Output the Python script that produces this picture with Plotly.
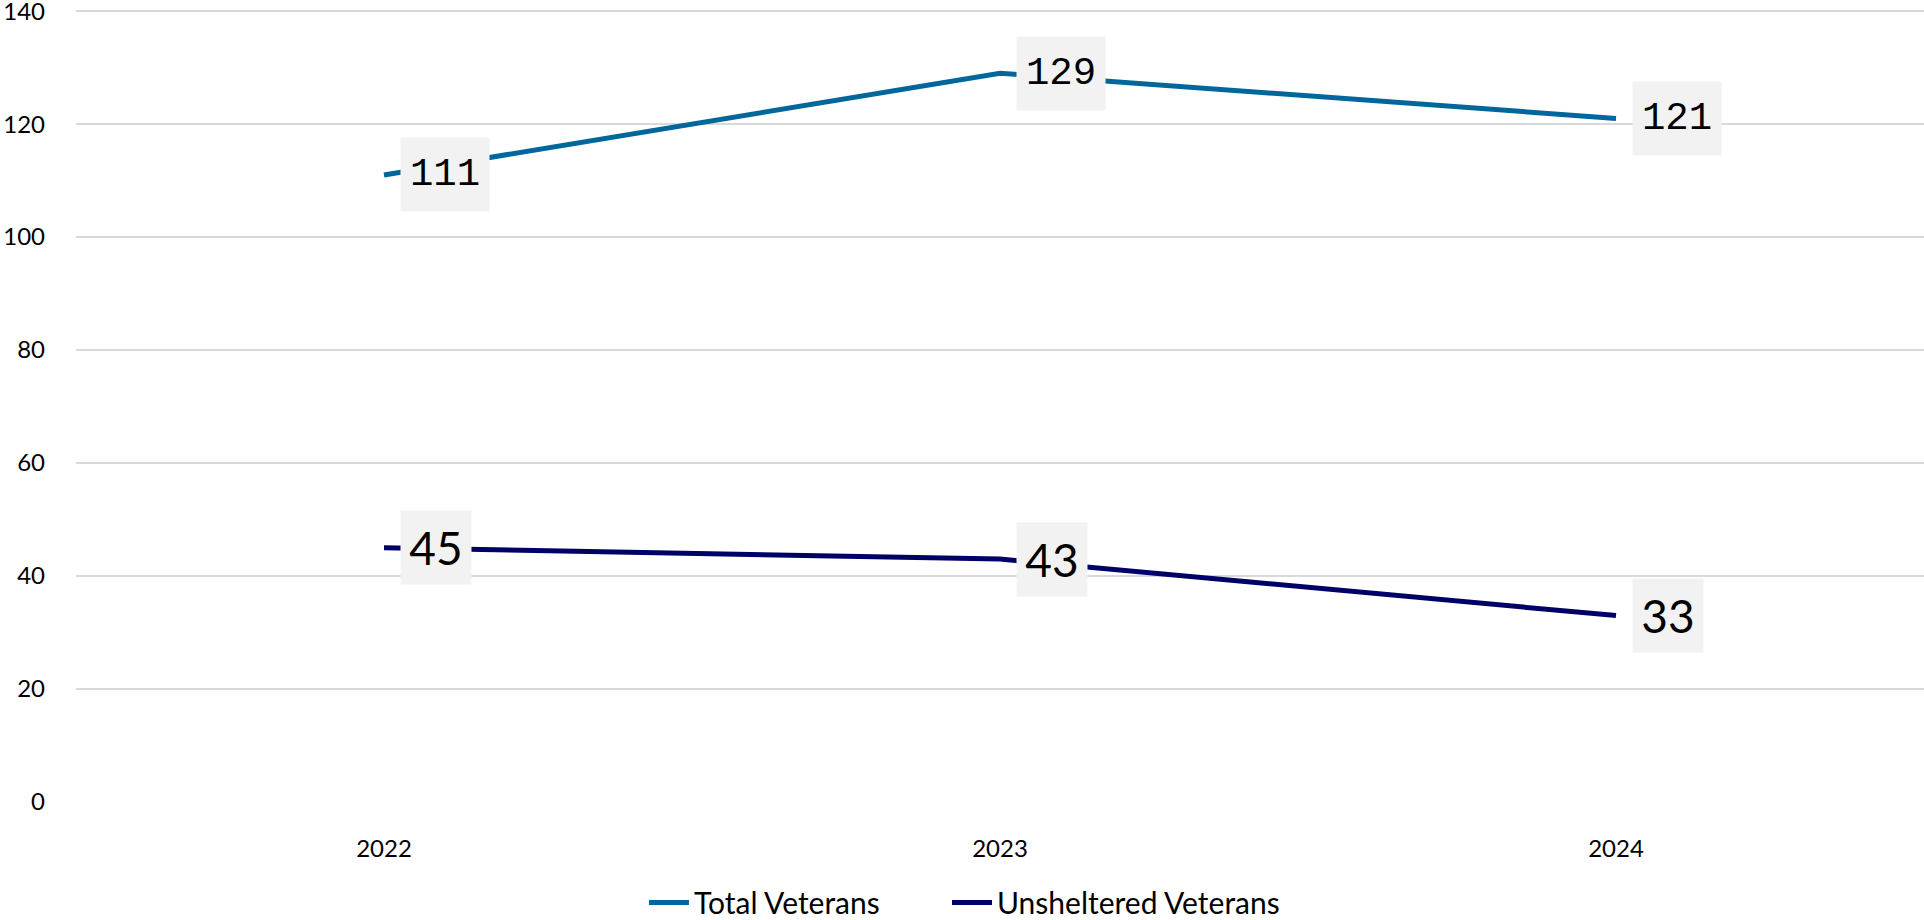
import plotly.graph_objects as go

years = ["2022", "2023", "2024"]
total_veterans = [111, 129, 121]
unsheltered_veterans = [45, 43, 33]
y_ticks = [0, 20, 40, 60, 80, 100, 120, 140]

FONT = "Lato, 'Open Sans', sans-serif"

# name, values, line colour, label font, label size, box w, legend id, legend x
series = [
    ("Total Veterans", total_veterans, "#00679c", "'Liberation Mono', monospace", 39, 88, "legend", 0.3347),
    ("Unsheltered Veterans", unsheltered_veterans, "#000066", FONT, 46, 70, "legend2", 0.4922),
]

fig = go.Figure()
legends = {}
for name, vals, col, lfont, lsize, bw, lg, lx in series:
    fig.add_trace(go.Scatter(x=years, y=vals, name=name, mode="lines",
                             line=dict(color=col, width=5), legend=lg))
    legends[lg] = dict(orientation="h", xref="container", x=lx, xanchor="left",
                       yref="container", y=0.019, yanchor="middle",
                       font=dict(size=30, color="black"), itemwidth=40,
                       bgcolor="rgba(0,0,0,0)")
    # data labels: grey boxes sitting just right of each point
    # (category index used for x, a "2022" string gets read as a position)
    for i, v in enumerate(vals):
        fig.add_annotation(x=i, y=v, text=str(v), showarrow=False,
                           xref="x", yref="y",
                           xanchor="left", yanchor="middle", xshift=16,
                           width=bw, height=73, align="center", valign="middle",
                           bgcolor="#f2f2f2", borderpad=0,
                           font=dict(size=lsize, color="black", family=lfont))

fig.update_layout(
    width=1924, height=920,
    margin=dict(l=76, r=0, t=10, b=118, autoexpand=False),
    plot_bgcolor="white",
    paper_bgcolor="white",
    font=dict(family=FONT, color="black", size=24),
    showlegend=True,
    **legends,
    xaxis=dict(type="category", range=[-0.5, 2.5], showgrid=False,
               zeroline=False, showline=False, ticks="", automargin=False,
               ticklabelstandoff=30, tickfont=dict(size=24)),
    yaxis=dict(range=[0, 140.2], tickvals=y_ticks, showgrid=True,
               gridcolor="#d9d9d9", gridwidth=2, zeroline=False,
               showline=False, ticks="", ticklabelstandoff=30,
               ticklabeloverflow="allow", automargin=False,
               tickfont=dict(size=24)),
)

# drop the page's default 8px body margin so the figure fills the window
fig.write_html("out.html", config={"displayModeBar": False},
               post_script="document.body.style.margin='0';")
